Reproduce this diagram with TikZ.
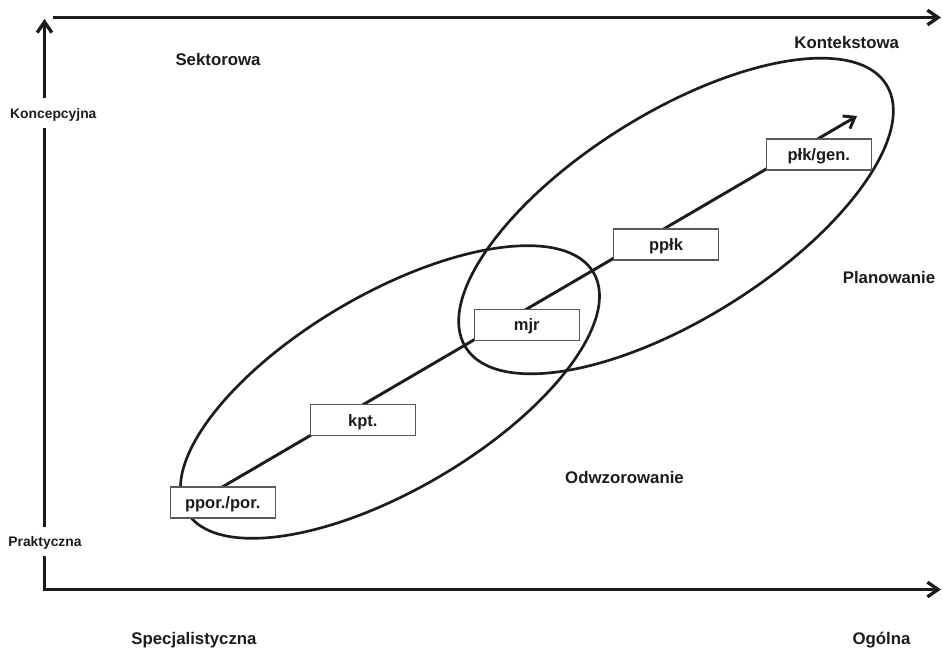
\documentclass[tikz,border=0pt]{standalone}
\usepackage{fontspec}
\setmainfont{Liberation Sans}
\usetikzlibrary{arrows.meta}
\definecolor{ink}{HTML}{1C1C1C}
\definecolor{framegray}{HTML}{5A5A5A}
\begin{document}
\begin{tikzpicture}[x=0.75pt,y=-0.75pt,
  axisline/.style={ink, line width=2.5pt, line join=miter},
  axistip/.style={-{Straight Barb[length=8pt,width=11pt]}},
  region/.style={text=ink, font=\fontsize{12.6}{14}\selectfont\bfseries, anchor=base, inner sep=0pt},
  sidelabel/.style={text=ink, font=\fontsize{10.4}{12}\selectfont\bfseries, minimum height=21.5pt, text height=8pt, text depth=0pt, inner sep=0pt},
  rankbox/.style={draw=framegray, line width=0.8pt, fill=white, text=ink, font=\fontsize{12.4}{14}\selectfont\bfseries, minimum width=78.75pt, minimum height=23.25pt, text height=8.8pt, text depth=0pt, inner sep=0pt},
  zone/.style={ink, line width=2pt},
  careerline/.style={ink, line width=2.2pt, -{Straight Barb[length=7.5pt,width=11pt]}}
]
\useasboundingbox (0,0) rectangle (943,647);

% competence zones
\coordinate (z1) at (390,392);
\coordinate (z2) at (676,216);
\draw[zone, rotate around={30.4:(z1)}] (z1) ellipse [x radius=236, y radius=98];
\draw[zone, rotate around={32:(z2)}] (z2) ellipse [x radius=248, y radius=103];

% career path
\coordinate (cs) at (200,500);
\coordinate (ce) at (857,116);
\draw[careerline] (cs) -- (ce);

% ranks
\node[rankbox] (ppor) at (222.7,502.5) {ppor./por.};
\node[rankbox] (kpt)  at (362.8,420.3) {kpt.};
\node[rankbox] (mjr)  at (526.7,324.8) {mjr};
\node[rankbox] (pplk) at (666,244.5) {ppłk};
\node[rankbox] (plk)  at (818.8,154.5) {płk/gen.};

% region labels
\node[region] (sek) at (218,65) {Sektorowa};
\node[region] (kon) at (846.7,48.3) {Kontekstowa};
\node[region] (pla) at (889,283) {Planowanie};
\node[region] (odw) at (624.5,483.3) {Odwzorowanie};
\node[region] (spe) at (194,644.5) {Specjalistyczna};
\node[region] (ogo) at (881.5,644) {Ogólna};

% axes
\coordinate (o) at (44.5,589.5);
\coordinate (ytip) at (44.5,19);
\coordinate (xtip) at (941,589.5);
\coordinate (tl) at (53,17.5);
\coordinate (tr) at (941,17.5);
\node[sidelabel] (konc) at (53.3,113) {Koncepcyjna};
\node[sidelabel] (prak) at (45,541.3) {Praktyczna};
\draw[axisline, axistip] (o |- prak.south) -- (o) -- (xtip);
\draw[axisline] (o |- prak.north) -- (o |- konc.south);
\draw[axisline, axistip] (o |- konc.north) -- (ytip);
\draw[axisline, axistip] (tl) -- (tr);
\end{tikzpicture}
\end{document}
